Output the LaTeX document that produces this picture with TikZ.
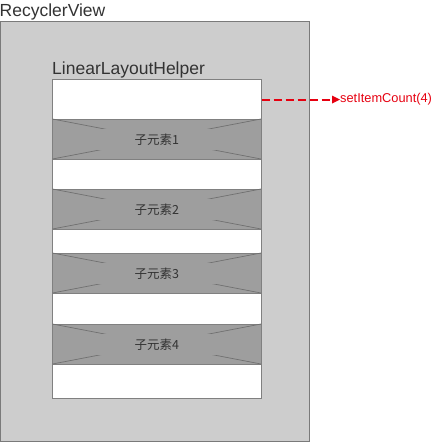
\documentclass[tikz,border=0pt]{standalone}
\usepackage{fontspec}
\setmainfont{Liberation Sans}
\newfontfamily\cjk{Noto Sans CJK SC}
\usetikzlibrary{arrows.meta}
\definecolor{outerfill}{HTML}{CDCDCD}
\definecolor{outerline}{HTML}{7A7A7A}
\definecolor{innerline}{HTML}{808080}
\definecolor{bandfill}{HTML}{9E9E9E}
\definecolor{xline}{HTML}{707070}
\definecolor{labtext}{HTML}{333333}
\definecolor{redc}{RGB}{230,0,16}
\tikzset{
  title/.style={inner sep=0pt, anchor=base west, font=\fontsize{17.5}{20}\selectfont, text=labtext},
  bandlabel/.style={fill=bandfill, inner sep=0pt, minimum width=140pt, minimum height=21pt, font=\cjk\fontsize{12.5}{14}\selectfont, text=labtext},
  callout/.style={inner sep=0pt, anchor=west, font=\fontsize{12.8}{15}\selectfont, text=redc},
  redline/.style={draw=redc, line width=2pt, dash pattern=on 8pt off 4pt},
  redhead/.style={fill=redc, draw=none}
}
\begin{document}
\begin{tikzpicture}[x=1pt,y=-1pt]
\useasboundingbox (0,0) rectangle (434,442);
% outer RecyclerView
\draw[fill=outerfill, draw=outerline, line width=1pt] (0.5,21) rectangle (309.5,441);
\node[title] (rv) at (-0.5,16) {RecyclerView};
% inner helper
\draw[fill=white, draw=innerline, line width=1pt] (52.5,79.5) rectangle (261,398);
\node[title] (llh) at (52,74) {LinearLayoutHelper};
% bands
\foreach \t/\n in {119/1,189/2,253/3,324/4}{
  \draw[fill=bandfill, draw=innerline, line width=1pt] (52.5,\t) rectangle (261,\t+40);
  \draw[xline, line width=0.7pt] (52.5,\t) -- (261,\t+40) (52.5,\t+40) -- (261,\t);
  \node[bandlabel] (b\n) at (156.75,\t+20.5) {子元素\n};
}
% callout
\node[callout] (sic) at (340,99.5) {setItemCount(4)};
\coordinate (src) at (261.5,99.5);
\coordinate (tipbase) at ([xshift=-8pt]sic.west);
\draw[redline] (src) -- (tipbase);
\fill[redhead] (sic.west) -- ([yshift=4pt]tipbase) -- ([yshift=-4pt]tipbase) -- cycle;
\end{tikzpicture}
\end{document}
